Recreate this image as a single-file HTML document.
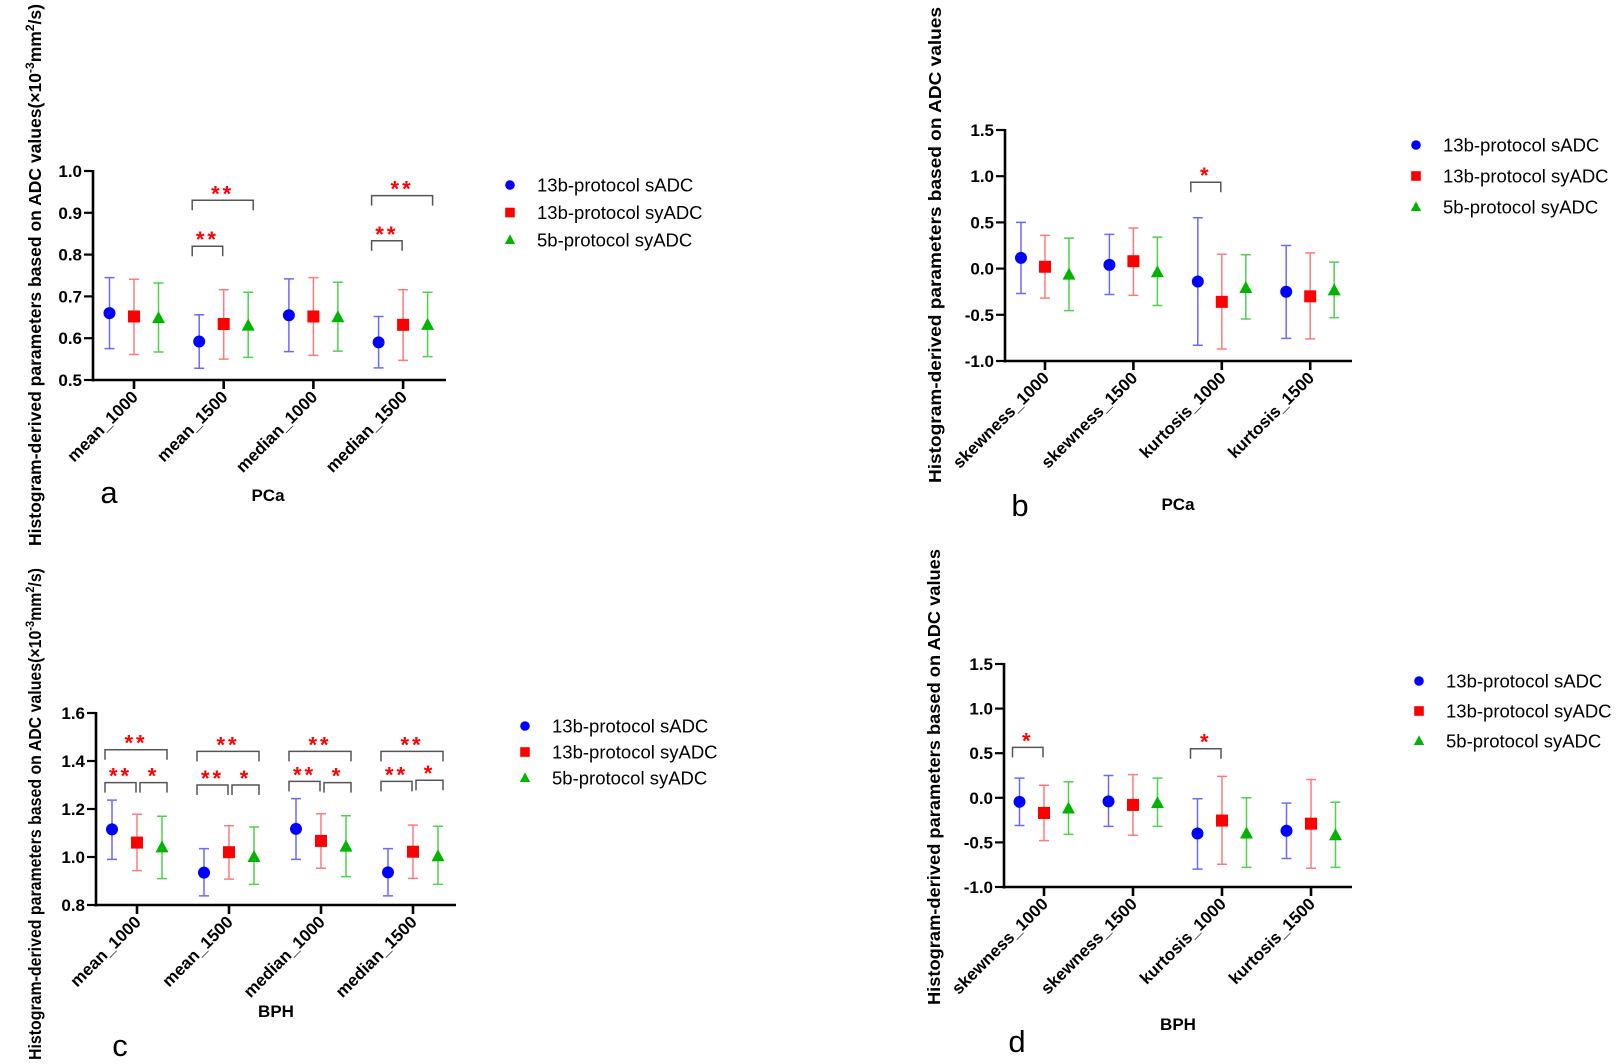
<!DOCTYPE html>
<html><head><meta charset="utf-8"><style>
html,body{margin:0;padding:0;background:#fff}
svg{display:block;font-family:"Liberation Sans",Arial,sans-serif}
</style></head><body>
<svg id="fig" width="1622" height="1064" viewBox="0 0 1622 1064" xmlns="http://www.w3.org/2000/svg"></svg>
<script>
// ---------- Panel a (PCa mean/median) ----------
const catsA = ["mean_1000","mean_1500","median_1000","median_1500"];
const sADC_A = [0.660,0.592,0.655,0.590];
const sADC_A_lo = [0.575,0.528,0.568,0.529];
const sADC_A_hi = [0.745,0.656,0.742,0.652];
const syADC13_A = [0.652,0.634,0.652,0.632];
const syADC13_A_lo = [0.561,0.550,0.559,0.547];
const syADC13_A_hi = [0.741,0.716,0.745,0.716];
const syADC5_A = [0.648,0.630,0.650,0.632];
const syADC5_A_lo = [0.567,0.554,0.569,0.556];
const syADC5_A_hi = [0.732,0.710,0.734,0.710];
const ticksA = [0.5,0.6,0.7,0.8,0.9,1.0];
const tickLabelsA = ["0.5","0.6","0.7","0.8","0.9","1.0"];
const bracketsA = [[1,0,1,0.82,"**"],[1,0,2,0.93,"**"],[3,0,1,0.833,"**"],[3,0,2,0.941,"**"]];

// ---------- Panel b (PCa skewness/kurtosis) ----------
const catsB = ["skewness_1000","skewness_1500","kurtosis_1000","kurtosis_1500"];
const sADC_B = [0.116,0.04,-0.14,-0.25];
const sADC_B_lo = [-0.27,-0.28,-0.83,-0.755];
const sADC_B_hi = [0.50,0.37,0.55,0.25];
const syADC13_B = [0.02,0.08,-0.36,-0.30];
const syADC13_B_lo = [-0.32,-0.29,-0.87,-0.76];
const syADC13_B_hi = [0.36,0.44,0.155,0.17];
const syADC5_B = [-0.065,-0.04,-0.21,-0.235];
const syADC5_B_lo = [-0.455,-0.40,-0.545,-0.53];
const syADC5_B_hi = [0.33,0.34,0.15,0.07];
const ticksB = [-1.0,-0.5,0.0,0.5,1.0,1.5];
const tickLabelsB = ["-1.0","-0.5","0.0","0.5","1.0","1.5"];
const bracketsB = [[2,0,1,0.935,"*"]];

// ---------- Panel c (BPH mean/median) ----------
const catsC = ["mean_1000","mean_1500","median_1000","median_1500"];
const sADC_C = [1.115,0.935,1.117,0.936];
const sADC_C_lo = [0.99,0.838,0.99,0.838];
const sADC_C_hi = [1.237,1.035,1.243,1.035];
const syADC13_C = [1.06,1.02,1.067,1.022];
const syADC13_C_lo = [0.943,0.908,0.953,0.911];
const syADC13_C_hi = [1.178,1.13,1.18,1.133];
const syADC5_C = [1.04,1.0,1.043,1.003];
const syADC5_C_lo = [0.91,0.886,0.918,0.886];
const syADC5_C_hi = [1.17,1.125,1.172,1.128];
const ticksC = [0.8,1.0,1.2,1.4,1.6];
const tickLabelsC = ["0.8","1.0","1.2","1.4","1.6"];
const bracketsC = [
  [0,0,1,1.31,"**"],[0,1,2,1.31,"*"],[0,0,2,1.447,"**"],
  [1,0,1,1.30,"**"],[1,1,2,1.30,"*"],[1,0,2,1.44,"**"],
  [2,0,1,1.315,"**"],[2,1,2,1.31,"*"],[2,0,2,1.44,"**"],
  [3,0,1,1.315,"**"],[3,1,2,1.32,"*"],[3,0,2,1.44,"**"]];

// ---------- Panel d (BPH skewness/kurtosis) ----------
const catsD = ["skewness_1000","skewness_1500","kurtosis_1000","kurtosis_1500"];
const sADC_D = [-0.045,-0.04,-0.40,-0.37];
const sADC_D_lo = [-0.31,-0.32,-0.80,-0.68];
const sADC_D_hi = [0.22,0.25,-0.01,-0.06];
const syADC13_D = [-0.17,-0.08,-0.255,-0.29];
const syADC13_D_lo = [-0.48,-0.42,-0.745,-0.79];
const syADC13_D_hi = [0.14,0.26,0.24,0.205];
const syADC5_D = [-0.12,-0.06,-0.40,-0.42];
const syADC5_D_lo = [-0.41,-0.32,-0.78,-0.78];
const syADC5_D_hi = [0.18,0.22,0.0,-0.05];
const ticksD = ticksB;
const tickLabelsD = tickLabelsB;
const bracketsD = [[0,0,1,0.565,"*"],[2,0,1,0.55,"*"]];

const seriesNames = ["13b-protocol sADC","13b-protocol syADC","5b-protocol syADC"];

const NS = "http://www.w3.org/2000/svg";
const svg = document.getElementById("fig");
function mk(tag, attrs, parent, text){
  const e = document.createElementNS(NS, tag);
  for (const k in attrs) e.setAttribute(k, attrs[k]);
  if (text !== undefined) e.textContent = text;
  (parent||svg).appendChild(e);
  return e;
}
const markerCol = ["#0000ff","#ff0000","#00b400"];
const barCol = ["#6a6aff","#ff7b7b","#4fd24f"];

function marker(g, type, x, y, s){
  let m;
  if (type===0) m = mk("circle",{cx:x,cy:y,r:6*s,fill:markerCol[0]},g);
  else if (type===1) m = mk("rect",{x:x-6*s,y:y-6*s,width:12*s,height:12*s,fill:markerCol[1]},g);
  else m = mk("polygon",{points:`${x},${y-7*s} ${x-6.5*s},${y+5*s} ${x+6.5*s},${y+5*s}`,fill:markerCol[2]},g);
  return m;
}

function panel(p){
  const g = mk("g",{});
  
  
  const yMin = p.ticks[0], yMax = p.ticks[p.ticks.length-1];
  const yS = v => p.y0 - (v - yMin) / (yMax - yMin) * (p.y0 - p.y1);
  const xS = i => p.x1st + i * p.step;
  const off = [-p.off, 0, p.off];
  const ax = mk("line",{x1:p.ax,y1:p.y1-1,x2:p.ax,y2:p.y0+1.5,stroke:"#000","stroke-width":2.6},g);
  
  
  const xl = mk("line",{x1:p.ax-1.3,y1:p.y0,x2:p.xEnd,y2:p.y0,stroke:"#000","stroke-width":2.6},g);
  
  
  p.ticks.forEach((t,i)=>{
    const y = yS(t);
    mk("line",{x1:p.ax-9,y1:y,x2:p.ax,y2:y,stroke:"#000","stroke-width":2.2},g);
    const tl = mk("text",{x:p.ax-11,y:y+6,"text-anchor":"end","font-size":17,"font-weight":"bold"},g,p.tickLabels[i]);
    
    
  });
  p.cats.forEach((c,i)=>{
    const x = xS(i);
    mk("line",{x1:x,y1:p.y0,x2:x,y2:p.y0+9,stroke:"#000","stroke-width":2.6},g);
    const tx = x+5, ty = p.y0+18;
    const tl = mk("text",{x:tx,y:ty,"text-anchor":"end","font-size":17,"font-weight":"bold",transform:`rotate(-45 ${tx} ${ty})`},g,c);
    
    
  });
  p.series.forEach((s,si)=>{
    const sg = mk("g",{},g);
    
    
    s.mean.forEach((v,i)=>{
      const x = xS(i)+off[si];
      const yl = yS(s.lo[i]), yh = yS(s.hi[i]);
      const eb = mk("path",{d:`M${x},${yl}V${yh}M${x-5},${yh}H${x+5}M${x-5},${yl}H${x+5}`,stroke:barCol[si],"stroke-width":1.5,fill:"none"},sg);
      
      
      const m = marker(sg, si, x, yS(v), 1);
      
      
    });
  });
  p.brackets.forEach(b=>{
    const xa = xS(b[0])+off[b[1]]-(b[1]===0?7:-3), xb = xS(b[0])+off[b[2]]+(b[2]===p.series.length-1?5:0) - (b[2]===1 && b[1]===0 ? 1 : 0);
    const y = yS(b[3]);
    const br = mk("path",{d:`M${xa},${y+10}V${y}H${xb}V${y+10}`,stroke:"#555","stroke-width":1.5,fill:"none"},g);
    
    
    const st = mk("text",{x:(xa+xb)/2,y:y+1,"text-anchor":"middle","font-size":22,"font-weight":"bold",fill:"#ff0000","letter-spacing":3},g,b[4]);
    
    
  });
  const lg = mk("g",{},g);
  
  
  seriesNames.forEach((n,si)=>{
    const y = p.legY + si*p.legGap;
    const m = marker(lg, si, p.legX, y, 0.8);
    
    
    const t = mk("text",{x:p.legX+27,y:y+6.5,"font-size":18.5},lg,n);
    
    
  });
  const yt = mk("text",{x:p.ytX,y:p.ytY,"text-anchor":"middle","font-size":17.5,"font-weight":"bold",transform:`rotate(-90 ${p.ytX} ${p.ytY})`,textLength:p.ytLen,lengthAdjust:"spacingAndGlyphs"},g);
  
  
  if (p.unit){
    mk("tspan",{},yt,"Histogram-derived parameters based on ADC values(×10");
    mk("tspan",{dy:-7,"font-size":12},yt,"-3");
    mk("tspan",{dy:7},yt,"mm");
    mk("tspan",{dy:-7,"font-size":12},yt,"2");
    mk("tspan",{dy:7},yt,"/s)");
  } else yt.textContent = "Histogram-derived parameters based on ADC values";
  const xt = mk("text",{x:p.xtX,y:p.xtY,"text-anchor":"middle","font-size":17,"font-weight":"bold"},g,p.xt);
  
  
  const lt = mk("text",{x:p.letX,y:p.letY,"text-anchor":"middle","font-size":31},g,p.letter);
  
  
}

panel({name:"panel-a",cats:catsA,ticks:ticksA,tickLabels:tickLabelsA,brackets:bracketsA,
  series:[{mean:sADC_A,lo:sADC_A_lo,hi:sADC_A_hi},{mean:syADC13_A,lo:syADC13_A_lo,hi:syADC13_A_hi},{mean:syADC5_A,lo:syADC5_A_lo,hi:syADC5_A_hi}],
  ax:93,y0:380,y1:171,xEnd:446,x1st:134,step:89.7,off:24.5,
  legX:510,legY:185,legGap:27.5,ytX:41,ytY:275,ytLen:542,unit:true,xt:"PCa",xtX:268,xtY:501,letter:"a",letX:109,letY:503});
panel({name:"panel-b",cats:catsB,ticks:ticksB,tickLabels:tickLabelsB,brackets:bracketsB,
  series:[{mean:sADC_B,lo:sADC_B_lo,hi:sADC_B_hi},{mean:syADC13_B,lo:syADC13_B_lo,hi:syADC13_B_hi},{mean:syADC5_B,lo:syADC5_B_lo,hi:syADC5_B_hi}],
  ax:1005,y0:361,y1:130,xEnd:1352,x1st:1045,step:88.4,off:24,
  legX:1416,legY:145,legGap:31,ytX:941,ytY:245,ytLen:476,unit:false,xt:"PCa",xtX:1178,xtY:510,letter:"b",letX:1020,letY:516});
panel({name:"panel-c",cats:catsC,ticks:ticksC,tickLabels:tickLabelsC,brackets:bracketsC,
  series:[{mean:sADC_C,lo:sADC_C_lo,hi:sADC_C_hi},{mean:syADC13_C,lo:syADC13_C_lo,hi:syADC13_C_hi},{mean:syADC5_C,lo:syADC5_C_lo,hi:syADC5_C_hi}],
  ax:96,y0:905,y1:713,xEnd:456,x1st:137,step:92,off:25,
  legX:525,legY:726,legGap:26,ytX:41,ytY:814,ytLen:492,unit:true,xt:"BPH",xtX:276,xtY:1017,letter:"c",letX:120,letY:1056});
panel({name:"panel-d",cats:catsD,ticks:ticksD,tickLabels:tickLabelsD,brackets:bracketsD,
  series:[{mean:sADC_D,lo:sADC_D_lo,hi:sADC_D_hi},{mean:syADC13_D,lo:syADC13_D_lo,hi:syADC13_D_hi},{mean:syADC5_D,lo:syADC5_D_lo,hi:syADC5_D_hi}],
  ax:1004,y0:887,y1:664,xEnd:1352,x1st:1044,step:89,off:24.5,
  legX:1419,legY:681,legGap:30,ytX:940,ytY:777,ytLen:456,unit:false,xt:"BPH",xtX:1178,xtY:1030,letter:"d",letX:1017,letY:1052});
</script>
</body></html>
